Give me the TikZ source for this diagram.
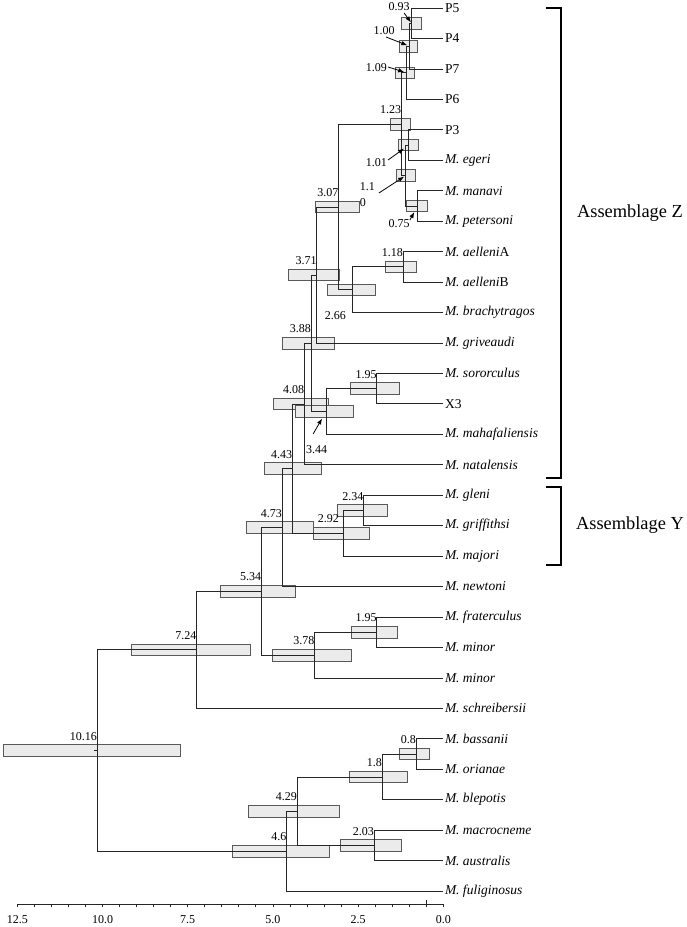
\documentclass[tikz,border=0pt]{standalone}
\usepackage{fontspec}
\setmainfont{Liberation Serif}
\usetikzlibrary{arrows.meta,calc,positioning}

\tikzset{
  branch/.style={draw=black!85, line width=0.8pt},
  hpd/.style={draw=black!65, fill=black!8, line width=0.7pt},
  taxon/.style={anchor=west, inner sep=1.5pt, font=\fontsize{13.5}{14}\selectfont},
  agelab/.style={inner sep=0pt, font=\fontsize{12}{12}\selectfont},
  nodeage/.style={agelab, anchor=south east},
  pointer/.style={-{Latex[length=6pt,width=4.5pt]}, line width=0.8pt},
  clade/.style={line width=1.3pt},
  group/.style={font=\fontsize{18.4}{20}\selectfont},
}

\begin{document}
\begin{tikzpicture}[x=1pt,y=-1pt]
    \useasboundingbox (0,0) rectangle (687,927);

    \begin{scope}[shift={(443.3,0)}, x=-34.08pt]
        % tips
        \node[taxon] (P5) at (0, 8) {P5};
        \node[taxon] (P4) at (0, 38.45) {P4};
        \node[taxon] (P7) at (0, 68.9) {P7};
        \node[taxon] (P6) at (0, 99.35) {P6};
        \node[taxon] (P3) at (0, 129.8) {P3};
        \node[taxon] (egeri) at (0, 160.25) {\textit{M. egeri}};
        \node[taxon] (manavi) at (0, 190.7) {\textit{M. manavi}};
        \node[taxon] (petersoni) at (0, 221.15) {\textit{M. petersoni}};
        \node[taxon] (aelleniA) at (0, 251.6) {\textit{M. aelleni}A};
        \node[taxon] (aelleniB) at (0, 282.05) {\textit{M. aelleni}B};
        \node[taxon] (brachytragos) at (0, 312.5) {\textit{M. brachytragos}};
        \node[taxon] (griveaudi) at (0, 342.95) {\textit{M. griveaudi}};
        \node[taxon] (sororculus) at (0, 373.4) {\textit{M. sororculus}};
        \node[taxon] (X3) at (0, 403.85) {X3};
        \node[taxon] (mahafaliensis) at (0, 434.3) {\textit{M. mahafaliensis}};
        \node[taxon] (natalensis) at (0, 464.75) {\textit{M. natalensis}};
        \node[taxon] (gleni) at (0, 495.2) {\textit{M. gleni}};
        \node[taxon] (griffithsi) at (0, 525.65) {\textit{M. griffithsi}};
        \node[taxon] (majori) at (0, 556.1) {\textit{M. majori}};
        \node[taxon] (newtoni) at (0, 586.55) {\textit{M. newtoni}};
        \node[taxon] (fraterculus) at (0, 617) {\textit{M. fraterculus}};
        \node[taxon] (minorA) at (0, 647.45) {\textit{M. minor}};
        \node[taxon] (minorB) at (0, 677.9) {\textit{M. minor}};
        \node[taxon] (schreibersii) at (0, 708.35) {\textit{M. schreibersii}};
        \node[taxon] (bassanii) at (0, 738.8) {\textit{M. bassanii}};
        \node[taxon] (orianae) at (0, 769.25) {\textit{M. orianae}};
        \node[taxon] (blepotis) at (0, 799.7) {\textit{M. blepotis}};
        \node[taxon] (macrocneme) at (0, 830.15) {\textit{M. macrocneme}};
        \node[taxon] (australis) at (0, 860.6) {\textit{M. australis}};
        \node[taxon] (fuliginosus) at (0, 891.05) {\textit{M. fuliginosus}};

        % internal nodes (x = age)
        \coordinate (n093) at (0.93, 23.2);
        \coordinate (n100) at (1.00, 46.05);
        \coordinate (n109) at (1.09, 72.7);
        \coordinate (n101) at (1.01, 145.0);
        \coordinate (n075) at (0.75, 205.9);
        \coordinate (n110) at (1.1, 175.5);
        \coordinate (n123) at (1.23, 124.1);
        \coordinate (n118) at (1.18, 266.8);
        \coordinate (n266) at (2.66, 289.7);
        \coordinate (n307) at (3.07, 206.9);
        \coordinate (n371) at (3.71, 274.9);
        \coordinate (n195a) at (1.95, 388.6);
        \coordinate (n344) at (3.44, 411.5);
        \coordinate (n388) at (3.88, 343.2);
        \coordinate (n408) at (4.08, 404.0);
        \coordinate (n234) at (2.34, 510.4);
        \coordinate (n292) at (2.92, 533.3);
        \coordinate (n443) at (4.43, 468.6);
        \coordinate (n473) at (4.73, 527.6);
        \coordinate (n195b) at (1.95, 632.2);
        \coordinate (n378) at (3.78, 655.1);
        \coordinate (n534) at (5.34, 591.3);
        \coordinate (n724) at (7.24, 649.8);
        \coordinate (n080) at (0.8, 754.0);
        \coordinate (n180) at (1.8, 776.9);
        \coordinate (n203) at (2.03, 845.4);
        \coordinate (n429) at (4.29, 811.1);
        \coordinate (n460) at (4.6, 851.1);
        \coordinate (n1016) at (10.16, 750.4);

        % 95% HPD bars
        \draw[hpd] (1.24, 17.4) rectangle (0.65, 29.0);
        \draw[hpd] (1.30, 40.25) rectangle (0.77, 51.85);
        \draw[hpd] (1.41, 66.9) rectangle (0.85, 78.5);
        \draw[hpd] (1.56, 118.3) rectangle (0.98, 129.9);
        \draw[hpd] (1.33, 139.2) rectangle (0.74, 150.8);
        \draw[hpd] (1.39, 169.7) rectangle (0.83, 181.3);
        \draw[hpd] (1.07, 200.1) rectangle (0.48, 211.7);
        \draw[hpd] (3.74, 201.1) rectangle (2.45, 212.7);
        \draw[hpd] (1.69, 261.0) rectangle (0.78, 272.6);
        \draw[hpd] (3.39, 283.9) rectangle (2.00, 295.5);
        \draw[hpd] (4.55, 269.1) rectangle (3.06, 280.7);
        \draw[hpd] (4.71, 337.4) rectangle (3.21, 349.0);
        \draw[hpd] (2.74, 382.8) rectangle (1.29, 394.4);
        \draw[hpd] (4.99, 398.2) rectangle (3.37, 409.8);
        \draw[hpd] (4.33, 405.7) rectangle (2.64, 417.3);
        \draw[hpd] (5.26, 462.8) rectangle (3.59, 474.4);
        \draw[hpd] (3.11, 504.6) rectangle (1.64, 516.2);
        \draw[hpd] (5.79, 521.8) rectangle (3.81, 533.4);
        \draw[hpd] (3.81, 527.5) rectangle (2.17, 539.1);
        \draw[hpd] (6.53, 585.5) rectangle (4.34, 597.1);
        \draw[hpd] (2.69, 626.4) rectangle (1.36, 638.0);
        \draw[hpd] (5.03, 649.3) rectangle (2.71, 660.9);
        \draw[hpd] (9.14, 644.0) rectangle (5.65, 655.6);
        \draw[hpd] (12.91, 744.6) rectangle (7.72, 756.2);
        \draw[hpd] (1.29, 748.2) rectangle (0.40, 759.8);
        \draw[hpd] (2.75, 771.1) rectangle (1.06, 782.7);
        \draw[hpd] (5.72, 805.3) rectangle (3.05, 816.9);
        \draw[hpd] (3.03, 839.6) rectangle (1.22, 851.2);
        \draw[hpd] (6.19, 845.3) rectangle (3.34, 856.9);

        % branches
        \draw[branch] (n093) |- (P5.west);
        \draw[branch] (n093) |- (P4.west);
        \draw[branch] (n100) |- (n093);
        \draw[branch] (n100) |- (P7.west);
        \draw[branch] (n109) |- (n100);
        \draw[branch] (n109) |- (P6.west);
        \draw[branch] (n101) |- (P3.west);
        \draw[branch] (n101) |- (egeri.west);
        \draw[branch] (n075) |- (manavi.west);
        \draw[branch] (n075) |- (petersoni.west);
        \draw[branch] (n110) |- (n101);
        \draw[branch] (n110) |- (n075);
        \draw[branch] (n123) |- (n109);
        \draw[branch] (n123) |- (n110);
        \draw[branch] (n118) |- (aelleniA.west);
        \draw[branch] (n118) |- (aelleniB.west);
        \draw[branch] (n266) |- (n118);
        \draw[branch] (n266) |- (brachytragos.west);
        \draw[branch] (n307) |- (n123);
        \draw[branch] (n307) |- (n266);
        \draw[branch] (n371) |- (n307);
        \draw[branch] (n371) |- (griveaudi.west);
        \draw[branch] (n195a) |- (sororculus.west);
        \draw[branch] (n195a) |- (X3.west);
        \draw[branch] (n344) |- (n195a);
        \draw[branch] (n344) |- (mahafaliensis.west);
        \draw[branch] (n388) |- (n371);
        \draw[branch] (n388) |- (n344);
        \draw[branch] (n408) |- (n388);
        \draw[branch] (n408) |- (natalensis.west);
        \draw[branch] (n234) |- (gleni.west);
        \draw[branch] (n234) |- (griffithsi.west);
        \draw[branch] (n292) |- (n234);
        \draw[branch] (n292) |- (majori.west);
        \draw[branch] (n443) |- (n408);
        \draw[branch] (n443) |- (n292);
        \draw[branch] (n473) |- (n443);
        \draw[branch] (n473) |- (newtoni.west);
        \draw[branch] (n195b) |- (fraterculus.west);
        \draw[branch] (n195b) |- (minorA.west);
        \draw[branch] (n378) |- (n195b);
        \draw[branch] (n378) |- (minorB.west);
        \draw[branch] (n534) |- (n473);
        \draw[branch] (n534) |- (n378);
        \draw[branch] (n724) |- (n534);
        \draw[branch] (n724) |- (schreibersii.west);
        \draw[branch] (n080) |- (bassanii.west);
        \draw[branch] (n080) |- (orianae.west);
        \draw[branch] (n180) |- (n080);
        \draw[branch] (n180) |- (blepotis.west);
        \draw[branch] (n203) |- (macrocneme.west);
        \draw[branch] (n203) |- (australis.west);
        \draw[branch] (n429) |- (n180);
        \draw[branch] (n429) |- (n203);
        \draw[branch] (n460) |- (n429);
        \draw[branch] (n460) |- (fuliginosus.west);
        \draw[branch] (n1016) |- (n724);
        \draw[branch] (n1016) |- (n460);
        \draw[branch] (n1016) -- ++(0.1,0);

        % node ages
        \node[agelab, anchor=east] (l093) at (0.98, 7) {0.93};
        \node[agelab, anchor=east] (l100) at (1.42, 31) {1.00};
        \node[agelab, anchor=east] (l109) at (1.65, 68) {1.09};
        \node[nodeage] (l123) at ($(n123)+(0,-10)$) {1.23};
        \node[agelab, anchor=east] (l101) at (1.65, 163) {1.01};
        \node[agelab, anchor=east] (l110) at (2.0, 187) {1.1};
        \node[agelab, anchor=east] (l075) at (0.98, 224) {0.75};
        \node[nodeage] (l307) at ($(n307)+(0,-10)$) {3.07};
        \node[agelab] (l307b) at (2.36, 203) {0};
        \node[nodeage] (l118) at ($(n118)+(0,-10)$) {1.18};
        \node[agelab, anchor=east] (l266) at (2.855, 316) {2.66};
        \node[nodeage] (l371) at ($(n371)+(0,-10)$) {3.71};
        \node[nodeage] (l388) at ($(n388)+(0,-10)$) {3.88};
        \node[nodeage] (l195a) at ($(n195a)+(0,-10)$) {1.95};
        \node[nodeage] (l408) at ($(n408)+(0,-10)$) {4.08};
        \node[agelab, anchor=east] (l344) at (3.40, 450) {3.44};
        \node[nodeage] (l443) at ($(n443)+(0,-10)$) {4.43};
        \node[nodeage] (l234) at ($(n234)+(0,-10)$) {2.34};
        \node[nodeage] (l292) at (3.06, 523.3) {2.92};
        \node[nodeage] (l473) at ($(n473)+(0,-10)$) {4.73};
        \node[nodeage] (l534) at ($(n534)+(0,-10)$) {5.34};
        \node[nodeage] (l195b) at ($(n195b)+(0,-10)$) {1.95};
        \node[nodeage] (l378) at ($(n378)+(0,-10)$) {3.78};
        \node[nodeage] (l724) at ($(n724)+(0,-10)$) {7.24};
        \node[nodeage] (l1016) at ($(n1016)+(0,-10)$) {10.16};
        \node[nodeage] (l080) at ($(n080)+(0,-10)$) {0.8};
        \node[nodeage] (l180) at ($(n180)+(0,-10)$) {1.8};
        \node[nodeage] (l429) at ($(n429)+(0,-10)$) {4.29};
        \node[nodeage] (l203) at ($(n203)+(0,-10)$) {2.03};
        \node[nodeage] (l460) at ($(n460)+(0,-10)$) {4.6};

        % pointers
        \coordinate (s093) at (1.15, 13);
        \coordinate (s100) at (1.68, 37);
        \coordinate (s109) at (1.62, 67);
        \coordinate (s101) at (1.62, 160);
        \coordinate (s110) at (1.89, 193);
        \coordinate (s075) at (0.98, 220);
        \coordinate (s344) at (3.82, 434);
        \draw[pointer, shorten >=1pt] (s093) -- (n093);
        \draw[pointer, shorten >=2pt] (s100) -- (n100);
        \draw[pointer, shorten >=2pt] (s109) -- (n109);
        \draw[pointer, shorten >=6pt] (s101) -- (n101);
        \draw[pointer, shorten >=2pt] (s110) -- (n110);
        \draw[pointer, shorten >=7pt] (s075) -- (n075);
        \draw[pointer, shorten >=8pt] (s344) -- (n344);

        % time axis
        \coordinate (axL) at (12.5, 904);
        \coordinate (axR) at (0, 904);
        \draw[branch] (axL) -- (axR);
        \foreach \t in {0,0.5,...,12.5}
            \draw[branch] (\t, 904) -- (\t, 907);
        \draw[branch] (0.5, 904) -- (0.5, 900);
        \node[agelab, anchor=base] (t125) at (12.5, 923) {12.5};
        \node[agelab, anchor=base] (t100) at (10, 923) {10.0};
        \node[agelab, anchor=base] (t75) at (7.5, 923) {7.5};
        \node[agelab, anchor=base] (t50) at (5, 923) {5.0};
        \node[agelab, anchor=base] (t25) at (2.5, 923) {2.5};
        \node[agelab, anchor=base] (t00) at (0, 923) {0.0};
    \end{scope}

    % assemblages
    \coordinate (zTop) at (561, 8);
    \coordinate (zBot) at (561, 478);
    \draw[clade] ($(zTop)+(-15,0)$) -- (zTop) -- (zBot) -- ($(zBot)+(-15,0)$);
    \node[group] (asmZ) at (630, 213) {Assemblage Z};

    \coordinate (yTop) at (561, 487);
    \coordinate (yBot) at (561, 565);
    \draw[clade] ($(yTop)+(-15,0)$) -- (yTop) -- (yBot) -- ($(yBot)+(-15,0)$);
    \node[group] (asmY) at (630, 525) {Assemblage Y};
\end{tikzpicture}
\end{document}
